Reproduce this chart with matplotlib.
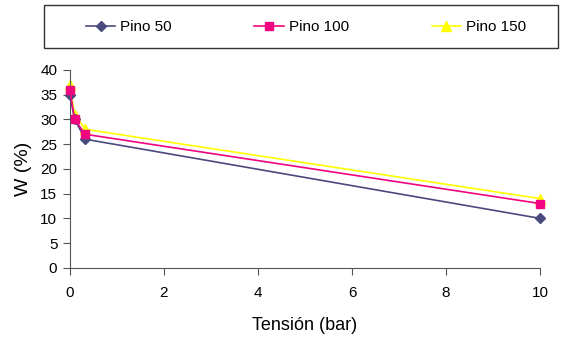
import matplotlib.pyplot as plt
from matplotlib.patches import Rectangle

plt.rcParams['font.family'] = ['Liberation Sans', 'DejaVu Sans']

tension = [0, 0.1, 0.33, 10]
pino_50 = [35, 30, 26, 10]
pino_100 = [36, 30, 27, 13]
pino_150 = [37, 31, 28, 14]

fig = plt.figure(figsize=(5.68, 3.43), dpi=100)
ax = fig.add_axes([0.123, 0.219, 0.828, 0.577])

ax.plot(tension, pino_50, color='#4B4A7E', marker='D', markersize=5, lw=1.2,
        label='Pino 50', clip_on=False, zorder=3)
ax.plot(tension, pino_100, color='#F0047F', marker='s', markersize=6, lw=1.2,
        label='Pino 100', clip_on=False, zorder=4)
ax.plot(tension, pino_150, color='#FFFF00', marker='^', markersize=7, lw=1.2,
        label='Pino 150', clip_on=False, zorder=2)

ax.set_xlim(0, 10)
ax.set_ylim(0, 40)
ax.set_xticks([0, 2, 4, 6, 8, 10])
ax.set_yticks(range(0, 41, 5))
for s in ['top', 'right']:
    ax.spines[s].set_visible(False)
for s in ['left', 'bottom']:
    ax.spines[s].set_color('#555555')
ax.tick_params(direction='out', length=5, color='#555555', labelsize=11)
ax.tick_params(axis='x', pad=8)
ax.tick_params(axis='y', pad=4)
ax.set_xlabel('Tensión (bar)', fontsize=13, labelpad=12)
ax.set_ylabel('W (%)', fontsize=14, labelpad=6)

fig.patches.append(Rectangle((44 / 568, 1 - 48 / 343), 514 / 568, 43 / 343,
                             transform=fig.transFigure, fill=False,
                             edgecolor='#333333', lw=1))
fig.legend(loc='center', bbox_to_anchor=(306 / 568, 1 - 27 / 343), ncol=3,
           frameon=False, fontsize=11, columnspacing=5.4, handlelength=1.9,
           handletextpad=0.35)

fig.savefig('out.png', dpi=100)
